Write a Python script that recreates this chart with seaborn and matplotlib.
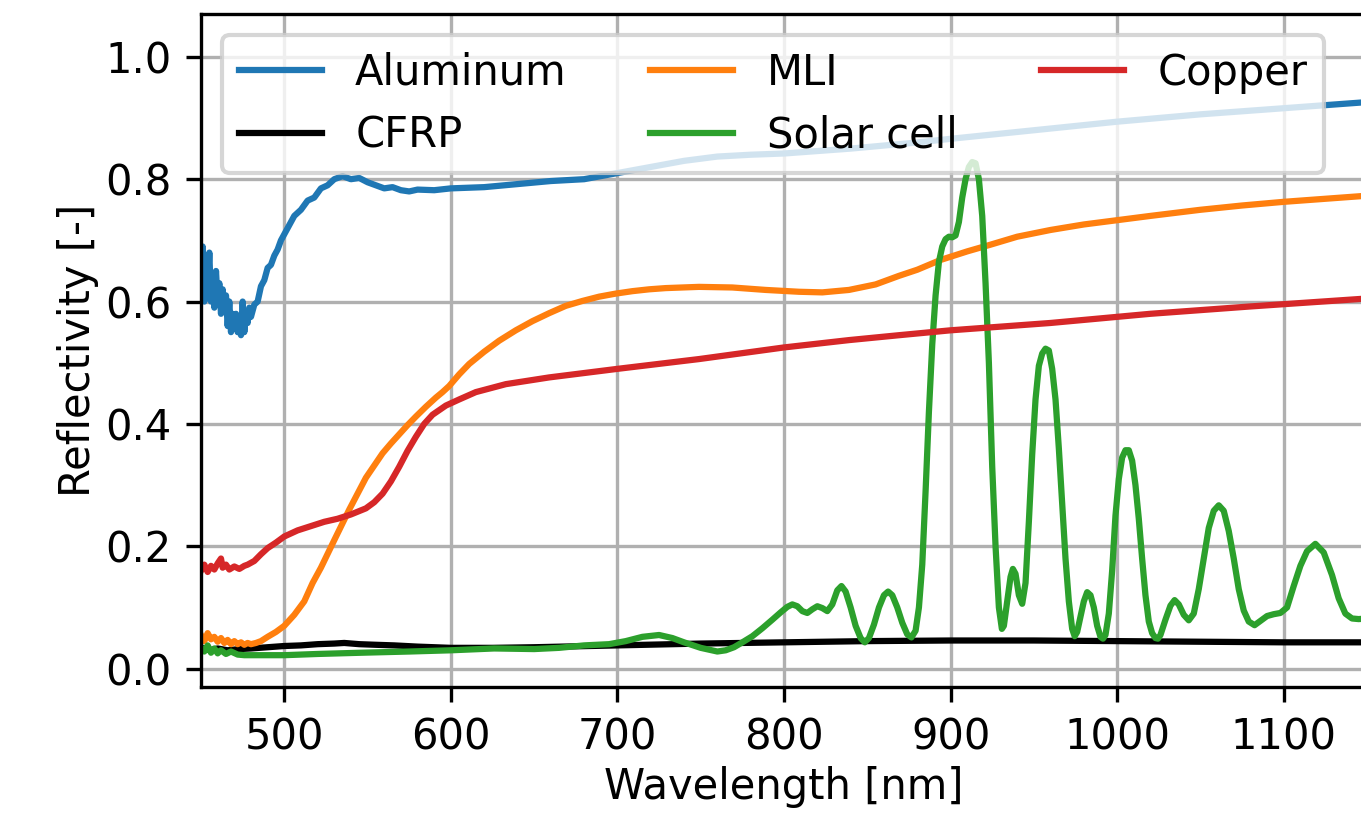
#%%
import pandas as pd
import seaborn as sns
import matplotlib.pyplot as plt
import numpy as np
#%% data (wavelength in nm, reflectivity)
al_wl = [450, 451, 452, 453, 454, 455, 456, 457, 458, 459, 460, 461, 462, 463, 464, 465, 466, 467, 468, 469,
         470, 471, 472, 473, 474, 475, 476, 477, 478, 479, 480, 482, 484, 486, 488, 490, 492, 494, 496, 498,
         500, 503, 506, 510, 514, 518, 522, 526, 530, 535, 540, 545, 550, 555, 560, 565, 570, 575, 580, 590,
         600, 620, 640, 660, 680, 700, 720, 740, 760, 780, 800, 820, 840, 860, 880, 900, 925, 950, 975, 1000,
         1025, 1050, 1075, 1100, 1125, 1150]
al_r = [0.61, 0.69, 0.60, 0.67, 0.62, 0.68, 0.60, 0.64, 0.59, 0.65, 0.60, 0.63, 0.58, 0.62, 0.59, 0.61, 0.56, 0.60, 0.55, 0.58,
        0.56, 0.58, 0.55, 0.57, 0.545, 0.60, 0.55, 0.58, 0.565, 0.59, 0.575, 0.595, 0.60, 0.625, 0.635, 0.655, 0.66, 0.675, 0.685, 0.70,
        0.71, 0.725, 0.74, 0.75, 0.765, 0.77, 0.785, 0.79, 0.80, 0.805, 0.80, 0.802, 0.795, 0.79, 0.785, 0.787, 0.782, 0.78, 0.783, 0.782,
        0.785, 0.787, 0.792, 0.797, 0.80, 0.81, 0.82, 0.83, 0.837, 0.84, 0.842, 0.846, 0.85, 0.855, 0.86, 0.866, 0.873, 0.88, 0.887, 0.894,
        0.90, 0.906, 0.911, 0.916, 0.921, 0.926]

cfrp_wl = [450, 455, 460, 466, 473, 480, 490, 500, 510, 520, 530, 536, 545, 555, 566, 580, 600, 625, 650, 700,
           750, 800, 850, 900, 950, 1000, 1050, 1100, 1150]
cfrp_r = [0.035, 0.030, 0.033, 0.030, 0.032, 0.033, 0.035, 0.037, 0.038, 0.040, 0.041, 0.042, 0.040, 0.039, 0.038, 0.036, 0.034, 0.034, 0.035, 0.038,
          0.041, 0.043, 0.045, 0.046, 0.046, 0.045, 0.044, 0.043, 0.043]

mli_wl = [450, 452, 454, 456, 458, 460, 462, 464, 466, 468, 470, 472, 474, 476, 478, 480, 483, 486, 490, 495,
          500, 506, 512, 517, 522, 530, 539, 549, 559, 564, 569, 574, 579, 585, 591, 595, 599, 605, 611, 620,
          629, 639, 649, 659, 669, 679, 689, 699, 709, 719, 729, 749, 769, 789, 809, 823, 839, 855, 869, 880,
          894, 910, 924, 940, 960, 980, 1000, 1020, 1050, 1075, 1100, 1125, 1150]
mli_r = [0.055, 0.045, 0.058, 0.048, 0.052, 0.044, 0.050, 0.042, 0.047, 0.040, 0.045, 0.040, 0.043, 0.039, 0.042, 0.040, 0.042, 0.045, 0.052, 0.060,
         0.070, 0.088, 0.110, 0.140, 0.165, 0.210, 0.260, 0.312, 0.352, 0.368, 0.383, 0.398, 0.412, 0.428, 0.443, 0.452, 0.462, 0.481, 0.498, 0.518,
         0.536, 0.553, 0.568, 0.581, 0.593, 0.601, 0.608, 0.613, 0.617, 0.620, 0.622, 0.624, 0.623, 0.619, 0.616, 0.615, 0.619, 0.628, 0.642, 0.652,
         0.668, 0.682, 0.693, 0.706, 0.717, 0.726, 0.733, 0.740, 0.750, 0.757, 0.763, 0.768, 0.773]

sc_wl = [450, 452, 454, 456, 458, 460, 462, 465, 468, 472, 476, 485, 500, 520, 546, 575, 600, 626, 650, 665,
         680, 695, 705, 715, 725, 733, 740, 750, 760, 765, 770, 775, 781, 787, 793, 798, 802, 805, 808, 811,
         814, 817, 820, 823, 826, 829, 832, 834.5, 837, 840, 843, 846, 848.5, 851, 854, 857, 860, 862.5, 865, 868,
         871, 874, 876.5, 879, 881, 883, 885, 887, 889, 891, 893, 895, 897, 899, 901, 903, 905, 907, 909, 911,
         913, 915, 917, 919, 921, 923, 925, 927, 929, 930.8, 932, 934, 936, 937.4, 939, 941, 943, 945, 947, 949,
         951, 953, 955, 957, 959, 961, 963, 965, 967, 969, 971, 973, 974.5, 976, 978, 980, 982, 984, 986, 988,
         990, 991.5, 993, 995, 997, 999, 1001, 1003, 1005, 1007, 1009, 1011, 1013, 1015, 1017, 1019, 1021, 1023, 1024.5, 1026,
         1029, 1032, 1034.5, 1037, 1040, 1043, 1046, 1049, 1052, 1055, 1058, 1061, 1064, 1067, 1070, 1073, 1076, 1079, 1082.5, 1086,
         1090, 1094, 1098, 1102, 1106, 1110, 1114, 1119, 1124, 1129, 1133, 1137, 1141, 1145, 1150]
sc_r = [0.035, 0.028, 0.038, 0.026, 0.033, 0.025, 0.030, 0.024, 0.028, 0.023, 0.022, 0.022, 0.022, 0.024, 0.026, 0.028, 0.030, 0.033, 0.032, 0.034,
        0.038, 0.040, 0.045, 0.052, 0.055, 0.050, 0.043, 0.034, 0.028, 0.030, 0.035, 0.043, 0.053, 0.066, 0.080, 0.092, 0.101, 0.105, 0.102, 0.094,
        0.091, 0.097, 0.102, 0.099, 0.094, 0.105, 0.128, 0.135, 0.126, 0.100, 0.070, 0.050, 0.043, 0.050, 0.072, 0.100, 0.120, 0.126, 0.120, 0.100,
        0.075, 0.056, 0.051, 0.062, 0.100, 0.170, 0.290, 0.420, 0.530, 0.610, 0.665, 0.690, 0.702, 0.706, 0.705, 0.708, 0.730, 0.770, 0.800, 0.820,
        0.828, 0.826, 0.800, 0.740, 0.630, 0.500, 0.330, 0.200, 0.100, 0.065, 0.070, 0.110, 0.150, 0.163, 0.155, 0.120, 0.106, 0.140, 0.240, 0.350,
        0.440, 0.495, 0.515, 0.523, 0.520, 0.490, 0.440, 0.360, 0.270, 0.180, 0.110, 0.065, 0.053, 0.060, 0.085, 0.110, 0.125, 0.120, 0.100, 0.070,
        0.052, 0.049, 0.055, 0.090, 0.160, 0.250, 0.310, 0.345, 0.357, 0.357, 0.340, 0.300, 0.245, 0.180, 0.120, 0.077, 0.058, 0.050, 0.049, 0.055,
        0.080, 0.103, 0.112, 0.105, 0.088, 0.079, 0.090, 0.130, 0.180, 0.230, 0.258, 0.267, 0.258, 0.225, 0.180, 0.130, 0.095, 0.077, 0.071, 0.078,
        0.086, 0.089, 0.091, 0.100, 0.135, 0.168, 0.192, 0.204, 0.190, 0.153, 0.115, 0.090, 0.082, 0.081, 0.082]

cu_wl = [450, 452, 454, 456, 458, 460, 462, 463, 465, 467, 470, 473, 476, 478, 482, 486, 490, 495, 500, 508,
         516, 524, 532, 540, 549, 554, 559, 564, 569, 574, 579, 584, 589, 597, 605, 615, 633, 659, 700, 749,
         800, 839, 869, 900, 960, 1020, 1080, 1150]
cu_r = [0.160, 0.170, 0.158, 0.168, 0.162, 0.172, 0.180, 0.165, 0.170, 0.162, 0.167, 0.163, 0.168, 0.170, 0.176, 0.187, 0.197, 0.206, 0.216, 0.226,
        0.233, 0.240, 0.245, 0.252, 0.262, 0.272, 0.286, 0.306, 0.330, 0.356, 0.379, 0.400, 0.415, 0.430, 0.440, 0.452, 0.465, 0.476, 0.490, 0.506,
        0.525, 0.537, 0.545, 0.553, 0.565, 0.580, 0.592, 0.605]

series = [('Aluminum', al_wl, al_r, 'tab:blue'),
          ('CFRP', cfrp_wl, cfrp_r, 'black'),
          ('MLI', mli_wl, mli_r, 'tab:orange'),
          ('Solar cell', sc_wl, sc_r, 'tab:green'),
          ('Copper', cu_wl, cu_r, 'tab:red')]
#%% plot
fig = plt.figure(figsize=(1361/300, 815/300), dpi=300)
ax = fig.add_axes([201/1361, 1-687/815, 1166/1361, 673/815])
for name, wl, r, c in series:
    sns.lineplot(x=wl, y=r, color=c, label=name, linewidth=1.5, ax=ax)
ax.set_xlim(450, 1150)
ax.set_ylim(-0.03, 1.07)
ax.set_xticks(np.arange(500, 1101, 100))
ax.set_yticks(np.arange(0, 1.01, 0.2))
ax.set_xlabel('Wavelength [nm]', labelpad=2)
ax.set_ylabel('Reflectivity [-]', labelpad=1.5)
ax.grid(True)
ax.legend(ncol=3, loc='upper left')
plt.savefig('out.png', dpi=300)
